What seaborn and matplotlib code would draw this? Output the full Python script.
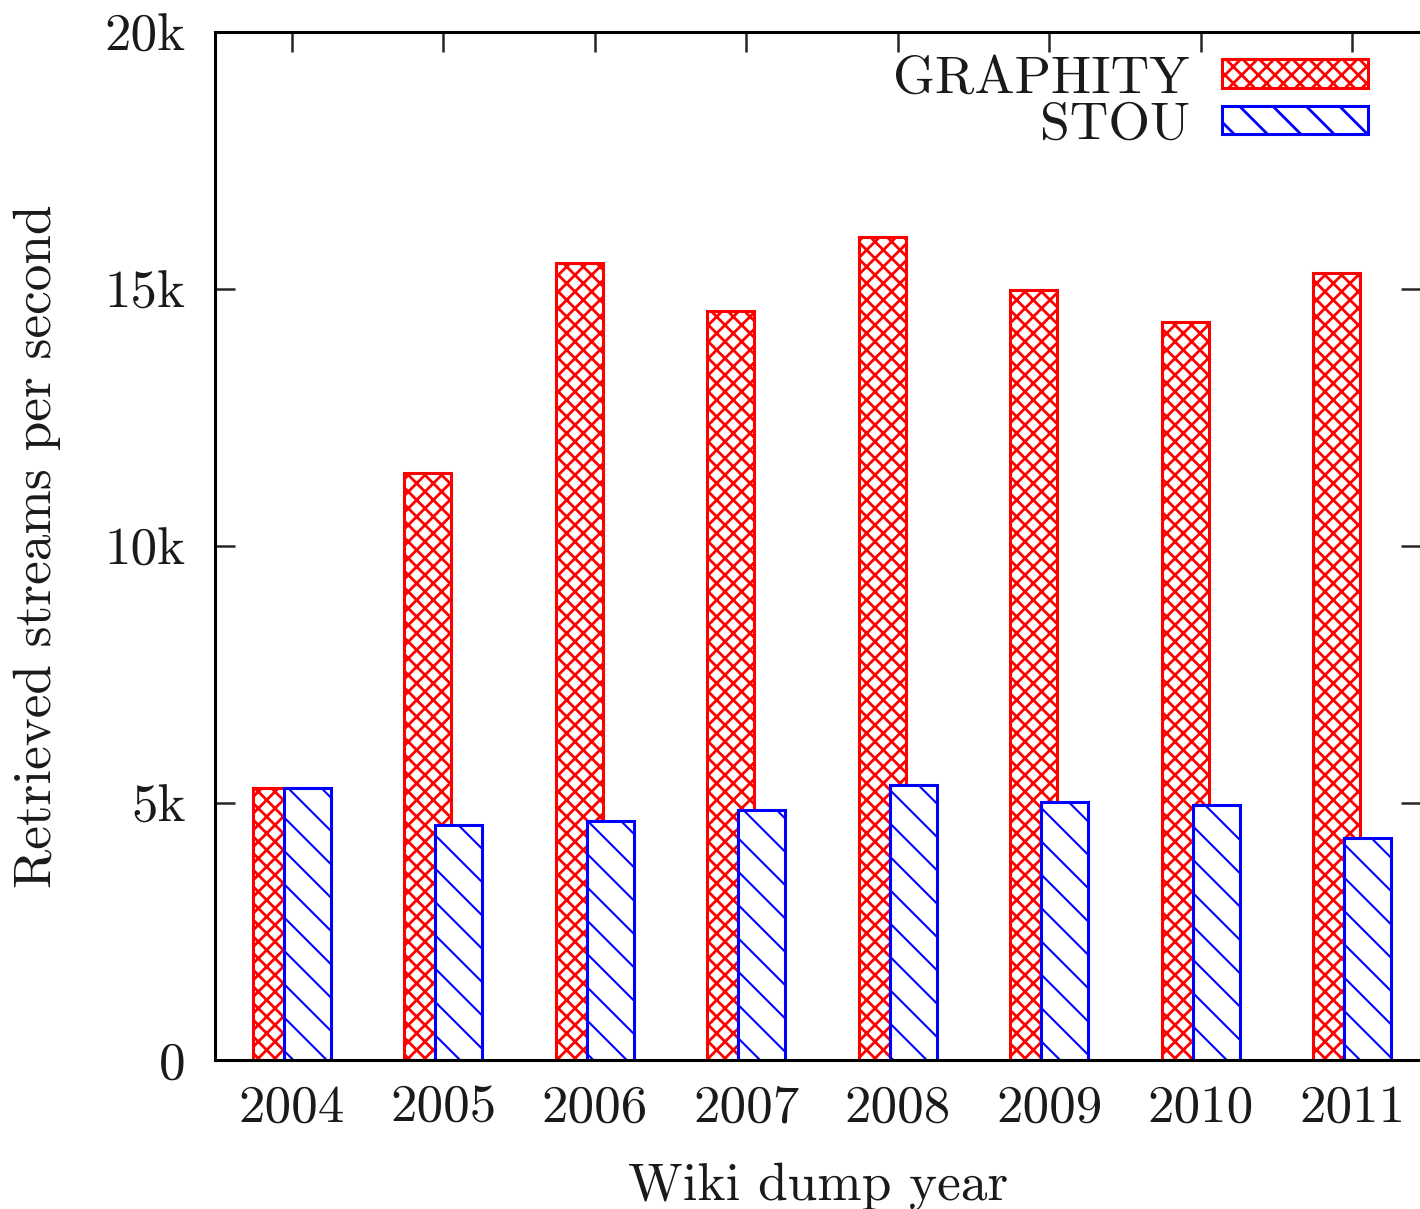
import matplotlib
matplotlib.use("Agg")
import matplotlib.pyplot as plt
from matplotlib.patches import Patch
import seaborn as sns
import pandas as pd

years = ["2004", "2005", "2006", "2007", "2008", "2009", "2010", "2011"]
graphity = [5290, 11420, 15500, 14570, 16010, 14980, 14360, 15310]
stou = [5290, 4570, 4650, 4860, 5350, 5020, 4960, 4320]
series_names = ["GRAPHITY", "STOU"]
y_ticks = [0, 5000, 10000, 15000, 20000]
y_ticklabels = ["0", "5k", "10k", "15k", "20k"]

df = pd.DataFrame({"year": years, "GRAPHITY": graphity, "STOU": stou})

sns.set_style("ticks")
plt.rcParams["font.family"] = ["cmr10", "DejaVu Serif"]
plt.rcParams["axes.formatter.use_mathtext"] = True
TXT = "#1a1a1a"
FS = 19.1

fig = plt.figure(figsize=(7.1, 6.045), dpi=200)
W, H = 1420, 1209
ax = fig.add_axes([215 / W, 1 - 1060 / H, (1421 - 215) / W, (1060 - 32) / H])

styles = {
    "GRAPHITY": dict(edge="#ff0000", hatch="xxxx", hlw=1.0, offset=-0.1025),
    "STOU": dict(edge="#0000ff", hatch="\\\\", hlw=0.75, offset=0.1025),
}

for name in series_names:
    st = styles[name]
    with plt.rc_context({"hatch.linewidth": st["hlw"]}):
        n0 = len(ax.patches)
        sns.barplot(data=df, x="year", y=name, order=years, width=0.31,
                    errorbar=None, ax=ax)
        for p in ax.patches[n0:]:
            p.set_x(p.get_x() + st["offset"])
            p.set_facecolor("white")
            p.set_edgecolor(st["edge"])
            p.set_hatch(st["hatch"])
            p.set_linewidth(1.1)

ax.set_xlim(-0.508, 7.453)
ax.set_ylim(0, 20000)
ax.set_yticks(y_ticks)
ax.set_yticklabels(y_ticklabels)

for s in ax.spines.values():
    s.set_visible(True)
    s.set_linewidth(1.1)
    s.set_color("black")

ax.tick_params(axis="y", direction="in", length=7.2, width=0.9, left=True,
               right=True, labelsize=FS, labelcolor=TXT, pad=10.5)
ax.tick_params(axis="x", direction="in", length=7.2, width=0.9, top=True,
               bottom=False, labelsize=FS, labelcolor=TXT, pad=9)

ax.set_xlabel("Wiki dump year", fontsize=FS + 0.1, color=TXT)
ax.set_ylabel("Retrieved streams per second", fontsize=FS + 0.1, color=TXT)
ax.xaxis.set_label_coords(0.5, -0.099)
ax.yaxis.set_label_coords(-0.128, 0.5)

handles = []
for name in series_names:
    st = styles[name]
    with plt.rc_context({"hatch.linewidth": st["hlw"]}):
        handles.append(Patch(facecolor="white", edgecolor=st["edge"],
                             hatch=st["hatch"], linewidth=1.1, label=name))
leg = ax.legend(handles=handles, loc="upper right", markerfirst=False,
                frameon=False, fontsize=FS + 0.2, handlelength=2.72,
                handleheight=0.45, handletextpad=0.6, labelspacing=-0.01,
                borderpad=0, borderaxespad=0,
                bbox_to_anchor=(0.956, 0.977))
for t in leg.get_texts():
    t.set_color(TXT)

fig.savefig("out.png", dpi=200)
